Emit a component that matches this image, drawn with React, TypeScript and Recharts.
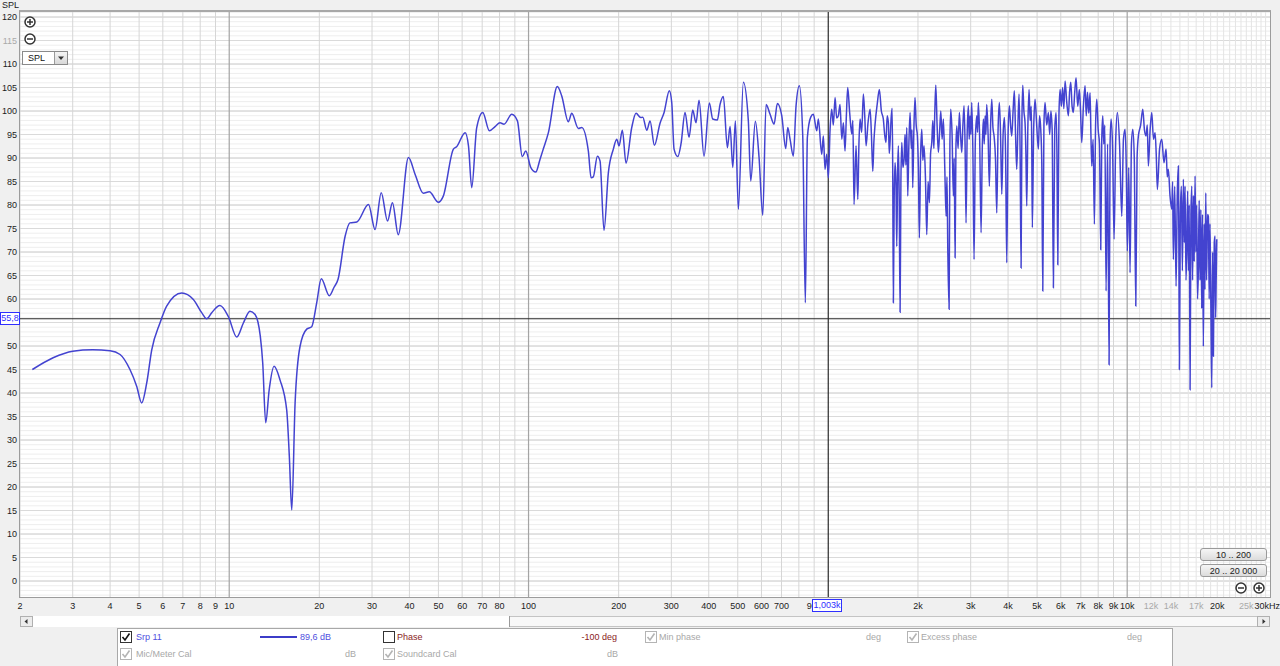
import { LineChart, Line, XAxis, YAxis, ReferenceLine } from "recharts";

// frequency (Hz), SPL (dB)
const subBass: [number, number][] = [
  [2.2, 45.0], [2.58, 47.5], [3.0, 48.9], [3.5, 49.2], [4.0, 49.0], [4.32, 48.2], [4.66, 45.0],
  [4.91, 41.4], [5.1, 37.9], [5.3, 42.1], [5.51, 49.2], [5.87, 54.9], [6.18, 58.5], [6.94, 61.3],
  [7.59, 59.9], [8.09, 57.1], [8.41, 55.8], [8.74, 57.1], [9.31, 58.6], [9.93, 56.3], [10.6, 51.9],
  [11.15, 54.9], [11.73, 57.4], [12.2, 56.7], [12.7, 52.1], [12.94, 46.4], [13.24, 33.7], [13.6, 40.7],
  [14.12, 45.7], [14.78, 42.8], [15.56, 36.4], [15.88, 26.5], [16.18, 15.1], [16.6, 37.9], [17.24, 49.9],
  [18.15, 53.6], [18.86, 54.1], [19.6, 59.2],
];

const bass: [number, number][] = [
  [20.3, 64.3], [21.6, 60.7], [22.4, 62.5], [23.1, 64.2], [24.4, 73.4], [25.3, 76.2], [26.7, 76.4],
  [29.2, 80.1], [30.7, 74.8], [32.2, 82.6], [33.8, 76.6], [35.1, 80.5], [36.7, 73.7], [39.7, 90.1],
  [41.8, 86.5], [44.5, 82.5], [46.6, 82.8], [50.0, 80.6], [51.9, 81.9], [56.1, 91.9], [57.5, 92.4],
  [61.4, 95.4], [63.0, 92.6], [64.6, 83.7], [67.1, 96.4], [70.3, 99.7], [74.0, 95.8], [77.3, 96.7],
  [80.3, 97.5], [82.8, 97.2], [87.9, 99.3], [91.8, 97.9], [95.3, 90.3], [97.9, 91.5], [101.7, 88.0],
  [105.7, 87.0], [109.2, 89.7], [112.0, 91.9], [116.5, 95.4], [124.8, 105.2], [129.1, 103.2],
  [135.8, 97.7], [139.4, 99.5], [146.7, 96.3], [150.6, 96.5], [158.4, 91.5], [161.8, 85.8],
  [164.6, 86.0], [169.8, 90.4], [173.3, 89.4], [178.7, 74.6], [184.8, 86.9], [192.0, 91.9], [197.1, 94.0],
];

const mids: [number, number][] = [
  [200.6, 92.6], [205.8, 95.9], [211.7, 88.9], [221.2, 96.5], [228.6, 99.5], [237.1, 98.6], [240.8, 98.7],
  [248.3, 95.9], [254.7, 97.9], [263.3, 92.7], [275.0, 97.4], [283.7, 99.7], [295.4, 104.3], [300.9, 101.8],
  [306.3, 91.9], [315.2, 90.3], [323.3, 93.1], [333.3, 99.7], [343.8, 94.4], [353.6, 100.2], [362.7, 97.5],
  [371.2, 102.3], [385.7, 90.4], [401.9, 101.7], [412.5, 98.3], [427.4, 98.1], [436.4, 101.4],
  [447.6, 103.1], [461.6, 92.2], [471.3, 96.7], [481.2, 88.0], [490.9, 97.9], [502.3, 79.1], [522, 106.1],
  [542.4, 97.9], [552.5, 85.1], [572.5, 97.8], [589, 90.1], [606, 77.8], [621.6, 101.4], [641, 99.3],
  [661.1, 97.2], [678.1, 101.6], [701.3, 99.0], [723.3, 92.0], [734.5, 96.5], [747.6, 94.0], [766.8, 90.4],
  [782.9, 101.1], [803.1, 105.4], [824.3, 94.7], [841, 59.2], [854.1, 94.4], [876.6, 98.7], [894.3, 99.3],
  [918.1, 95.8], [929.3, 98.3], [953.9, 90.8], [965.8, 94.7], [978.6, 87.6], [991.3, 90.8],
];

const upperMids: [number, number][] = [
  [1004, 85.8], [1017, 96.0], [1030, 100.4], [1043, 97.0], [1057, 102.9], [1070, 98.5], [1084, 99.0],
  [1098, 101.4], [1113, 94.0], [1127, 97.5], [1141, 91.5], [1153, 99.0], [1165, 105.0], [1183, 99.5],
  [1202, 95.1], [1212, 98.0], [1223, 80.1], [1242, 92.6], [1259, 81.2], [1270, 93.0], [1281, 98.3],
  [1297, 95.5], [1314, 103.6], [1328, 99.0], [1342, 92.6], [1362, 97.5], [1384, 100.4], [1398, 95.0],
  [1413, 87.2], [1425, 93.5], [1438, 97.2], [1462, 101.5], [1486, 104.6], [1509, 100.0], [1532, 98.3],
  [1548, 95.0], [1564, 93.3], [1578, 99.0], [1593, 97.5], [1604, 91.0], [1614, 93.6], [1627, 98.5],
  [1639, 100.6], [1647, 88.0],
];

const presence: [number, number][] = [
  [1655, 59.2], [1666, 82.0], [1677, 89.0], [1688, 85.0], [1699, 71.2], [1710, 87.0], [1720, 92.6],
  [1731, 82.0], [1743, 57.2], [1754, 85.0], [1766, 93.3], [1781, 88.0], [1797, 89.7], [1810, 95.0],
  [1822, 88.5], [1835, 96.5], [1849, 81.9], [1865, 93.0], [1882, 99.7], [1900, 92.0], [1910, 96.0],
  [1921, 83.7], [1938, 96.0], [1955, 102.9], [1973, 97.0], [1991, 94.7], [2006, 88.0], [2022, 73.0],
  [2040, 90.0], [2059, 96.1], [2077, 89.5], [2096, 92.6], [2118, 86.0], [2140, 73.7], [2162, 85.0],
  [2184, 80.5], [2204, 91.0], [2224, 93.3], [2242, 98.0], [2260, 92.0], [2277, 100.0], [2294, 105.5],
  [2317, 97.0], [2340, 91.2], [2362, 95.5], [2384, 100.0], [2408, 94.0], [2432, 98.3], [2458, 88.0],
  [2483, 77.6], [2500, 86.0], [2516, 70.5], [2541, 57.8], [2557, 93.0], [2574, 100.4], [2600, 95.0],
  [2626, 81.9], [2643, 90.0], [2661, 68.8], [2678, 92.0], [2696, 96.8], [2723, 92.0], [2750, 99.7],
  [2775, 95.0], [2801, 91.2], [2826, 97.0], [2851, 101.1], [2873, 93.0], [2895, 76.2], [2920, 95.0],
  [2947, 101.1], [2966, 94.0], [2986, 99.0], [3005, 95.0], [3025, 101.8], [3052, 91.0], [3079, 68.4],
  [3110, 94.0], [3144, 99.0], [3163, 95.5], [3183, 101.8], [3215, 94.0], [3250, 74.1], [3280, 92.0],
  [3308, 98.3], [3330, 93.0], [3352, 99.0], [3373, 95.0], [3395, 101.4], [3430, 95.0], [3464, 84.0],
  [3497, 97.0], [3529, 102.5], [3560, 96.5], [3591, 94.7], [3630, 90.0], [3667, 78.3], [3704, 96.0],
  [3741, 101.8], [3775, 95.0], [3811, 82.3], [3850, 95.0], [3888, 98.6], [3924, 91.0], [3960, 67.7],
  [4000, 95.0], [4040, 101.1], [4078, 97.0], [4115, 94.7], [4157, 100.0], [4198, 104.3], [4237, 95.0],
  [4276, 87.6], [4315, 97.0], [4353, 103.6], [4387, 92.0], [4421, 66.6], [4450, 98.0], [4479, 105.5],
  [4518, 100.0], [4558, 97.5], [4588, 91.0], [4618, 79.8], [4659, 97.0], [4700, 104.6], [4740, 98.0],
  [4780, 101.0], [4800, 92.0], [4821, 75.2], [4870, 96.0], [4922, 102.5], [4985, 97.0], [5049, 91.9],
  [5096, 99.0], [5143, 96.1], [5184, 89.0], [5224, 61.7],
];

const brilliance: [number, number][] = [
  [5270, 97.0], [5316, 101.8], [5385, 97.0], [5454, 99.7], [5510, 95.0], [5560, 100.0], [5615, 96.0],
  [5668, 62.4], [5727, 96.0], [5787, 99.7], [5825, 91.0], [5864, 67.3], [5915, 99.0], [5967, 104.6],
  [6025, 101.0], [6085, 105.0], [6143, 100.5], [6202, 106.4], [6280, 102.0], [6361, 99.0], [6420, 104.0],
  [6479, 106.1], [6545, 101.0], [6610, 99.7], [6680, 104.0], [6748, 107.1], [6835, 101.0], [6922, 104.6],
  [6985, 100.0], [7050, 93.3], [7140, 101.0], [7232, 105.4], [7300, 99.0], [7370, 104.0], [7440, 99.5],
  [7516, 103.9], [7566, 95.0], [7616, 88.3], [7693, 94.0], [7770, 75.9], [7842, 97.0], [7914, 102.5],
  [8000, 96.0], [8080, 93.0], [8160, 70.5], [8224, 94.0], [8287, 99.0], [8350, 93.0], [8420, 97.0],
  [8501, 61.7], [8600, 93.0], [8699, 46.0], [8767, 93.0], [8835, 98.3], [8938, 92.0], [9041, 72.7],
  [9157, 94.0], [9273, 99.7], [9430, 93.0], [9592, 77.6], [9716, 94.0], [9840, 96.1], [9930, 88.0],
  [10014, 70.2], [10120, 88.0], [10224, 65.6], [10332, 93.0], [10440, 96.1], [10560, 90.0], [10684, 58.5],
  [10790, 90.0], [10900, 94.7], [11090, 97.0], [11275, 100.4], [11420, 96.0], [11564, 94.7], [11670, 97.0],
  [11771, 88.3], [11930, 96.0], [12083, 99.7], [12240, 94.0], [12393, 95.4], [12500, 91.0], [12615, 83.3],
  [12830, 92.0], [13049, 94.0], [13270, 89.0], [13490, 91.9], [13610, 86.0], [13728, 87.6], [13900, 82.0],
  [14093, 79.1], [14180, 85.0], [14266, 68.4],
];

const air: [number, number][] = [
  [14415, 84.0], [14565, 62.7], [14700, 82.0], [14826, 88.3], [14885, 70.0], [14942, 45.0], [15050, 78.0],
  [15170, 84.0], [15290, 66.0], [15407, 85.5], [15520, 72.0], [15610, 84.0], [15720, 64.0], [15817, 70.5],
  [15920, 83.0], [16020, 66.0], [16120, 80.0], [16223, 40.7], [16330, 78.0], [16440, 84.0], [16540, 64.0],
  [16650, 82.0], [16750, 68.0], [16859, 86.2], [16960, 70.0], [17070, 80.0], [17180, 60.0], [17291, 66.3],
  [17400, 81.0], [17510, 64.0], [17620, 79.0], [17740, 58.0], [17850, 78.0], [17968, 49.9], [18080, 76.0],
  [18190, 62.0], [18306, 82.6], [18420, 64.0], [18550, 78.0], [18673, 77.6], [18790, 60.0], [18910, 76.0],
  [19040, 58.0], [19168, 41.1], [19290, 70.0], [19409, 47.8], [19540, 72.0], [19662, 73.4], [19740, 56.0],
  [19816, 62.7], [19921, 72.7],
];

const xTicks = [
  2, 3, 4, 5, 6, 7, 8, 9, 10, 20, 30, 40, 50, 60, 70, 80, 100, 200, 300, 400, 500, 600, 700, 900,
  2000, 3000, 4000, 5000, 6000, 7000, 8000, 9000, 10000, 12000, 14000, 17000, 20000, 25000, 30000,
];
const grayXTicks = [12000, 14000, 17000, 25000];
const yTicks = [0, 5, 10, 15, 20, 25, 30, 35, 40, 45, 50, 60, 65, 70, 75, 80, 85, 90, 95, 100, 105, 110, 115, 120];

const decadeLines = [10, 100, 10000];
const minorFreqLines = [
  2, 3, 4, 5, 6, 7, 8, 9, 20, 30, 40, 50, 60, 70, 80, 90, 200, 300, 400, 500, 600, 700, 800, 900,
  2000, 3000, 4000, 5000, 6000, 7000, 8000, 9000, 11000, 12000, 13000, 14000, 15000, 16000, 17000,
  18000, 19000, 20000, 21000, 22000, 23000, 24000, 25000, 26000, 27000, 28000, 29000,
];
const dbLines = Array.from({ length: 125 }, (_, i) => i - 3);

const cursorFreq = 1003;
const cursorDb = 55.8;
const readout = "89,6 dB";

const curve = [...subBass, ...bass, ...mids, ...upperMids, ...presence, ...brilliance, ...air].map(([f, spl]) => ({ f, spl }));

const FONT = '"Liberation Sans", Arial, sans-serif';
const BLUE = "#4343d0";

const fmtFreq = (v: number) => (v === 30000 ? "30kHz" : v >= 1000 ? `${v / 1000}k` : String(v));

const XTick = ({ x, y, payload }: any) => {
  const v = payload.value;
  const last = v === 30000;
  return (
    <text
      x={last ? x + 10 : x}
      y={y + 12}
      textAnchor={last ? "end" : "middle"}
      fontSize={9}
      fontFamily={FONT}
      fill={grayXTicks.includes(v) ? "#a9a9a9" : "#1c1c1c"}
    >
      {fmtFreq(v)}
    </text>
  );
};

const YTick = ({ x, y, payload }: any) => (
  <text x={x} y={y} dy="0.35em" textAnchor="end" fontSize={9} fontFamily={FONT} fill={payload.value === 115 ? "#a9a9a9" : "#1c1c1c"}>
    {payload.value}
  </text>
);

const dbStroke = (v: number) => (v % 10 === 0 ? "#c6c6c6" : v % 5 === 0 ? "#dadada" : "#eeeeee");

function ZoomIcon({ left, top, plus }: { left: number; top: number; plus?: boolean }) {
  return (
    <svg width={12} height={12} style={{ position: "absolute", left, top }}>
      <circle cx={6} cy={6} r={5} fill="#fff" stroke="#333" strokeWidth={1.5} />
      <line x1={3} y1={6} x2={9} y2={6} stroke="#333" strokeWidth={1.5} />
      {plus && <line x1={6} y1={3} x2={6} y2={9} stroke="#333" strokeWidth={1.5} />}
    </svg>
  );
}

function Check({ left, top, checked, gray }: { left: number; top: number; checked?: boolean; gray?: boolean }) {
  const c = gray ? "#b4b4b4" : "#333";
  return (
    <svg width={12} height={12} style={{ position: "absolute", left, top }}>
      <rect x={0.5} y={0.5} width={11} height={11} fill="#fff" stroke={c} />
      {checked && <path d="M2.5 6 L5 9 L9.5 2.5" fill="none" stroke={gray ? "#b4b4b4" : "#111"} strokeWidth={1.6} />}
    </svg>
  );
}

function Txt({ left, top, color, children, right }: any) {
  return (
    <span
      style={{
        position: "absolute",
        left: right === undefined ? left : undefined,
        right: right !== undefined ? right : undefined,
        top,
        fontSize: 9,
        fontFamily: FONT,
        color,
        lineHeight: "11px",
        whiteSpace: "nowrap",
      }}
    >
      {children}
    </span>
  );
}

function Btn({ top, label }: { top: number; label: string }) {
  return (
    <div
      style={{
        position: "absolute",
        left: 1200,
        top,
        width: 67,
        height: 13,
        borderRadius: 3,
        border: "1px solid #9a9a9a",
        background: "linear-gradient(#f6f6f6, #dcdcdc)",
        fontSize: 9,
        fontFamily: FONT,
        color: "#222",
        textAlign: "center",
        lineHeight: "13px",
        boxSizing: "border-box",
      }}
    >
      {label}
    </div>
  );
}

export default function App() {
  return (
    <div style={{ position: "absolute", left: 0, top: 0, width: 1280, height: 666, background: "#f0f0f0", overflow: "hidden", fontFamily: FONT }}>
      <Txt left={2} top={0} color="#222">SPL</Txt>
      <div style={{ position: "absolute", left: 20, top: 11, width: 1250, height: 586, background: "#fff" }} />
      <div style={{ position: "absolute", left: 0, top: 0 }}>
        <LineChart width={1280} height={614} data={curve} margin={{ top: 11, right: 10, bottom: 0, left: 0 }}>
          <XAxis
            dataKey="f"
            type="number"
            scale="log"
            domain={[2, 30000]}
            allowDataOverflow
            ticks={xTicks}
            interval={0}
            tick={(p: any) => <XTick {...p} />}
            tickLine={false}
            axisLine={false}
            tickSize={0}
            tickMargin={0}
            height={17}
          />
          <YAxis
            type="number"
            domain={[-3.4, 121.28]}
            allowDataOverflow
            ticks={yTicks}
            interval={0}
            tick={(p: any) => <YTick {...p} />}
            tickLine={false}
            axisLine={false}
            tickSize={0}
            tickMargin={3}
            width={20}
          />
          {dbLines.map((v) => (
            <ReferenceLine key={`h${v}`} y={v} stroke={dbStroke(v)} strokeWidth={1} />
          ))}
          {minorFreqLines.map((v) => (
            <ReferenceLine key={`v${v}`} x={v} stroke={v > 10000 ? "#e4e4e4" : "#d6d6d6"} strokeWidth={1} />
          ))}
          {decadeLines.map((v) => (
            <ReferenceLine key={`d${v}`} x={v} stroke="#a4a4a4" strokeWidth={1.2} />
          ))}
          <ReferenceLine y={cursorDb} stroke="#2a2a2a" strokeWidth={1.2} />
          <ReferenceLine x={cursorFreq} stroke="#2a2a2a" strokeWidth={1.2} />
          <Line
            dataKey="spl"
            type="monotone"
            stroke={BLUE}
            strokeWidth={1.5}
            dot={false}
            isAnimationActive={false}
          />
        </LineChart>
      </div>
      <div style={{ position: "absolute", left: 19, top: 10, width: 1252, height: 588, border: "1px solid #9c9c9c", borderTop: "2px solid #a8a8a8", boxSizing: "border-box" }} />

      <ZoomIcon left={24} top={16} plus />
      <ZoomIcon left={24} top={33} />
      <div style={{ position: "absolute", left: 22, top: 51, width: 46, height: 14, background: "#fff", border: "1px solid #8a8a8a", boxSizing: "border-box" }}>
        <span style={{ position: "absolute", left: 5, top: 1, fontSize: 9, fontFamily: FONT, lineHeight: "11px", color: "#111" }}>SPL</span>
        <div style={{ position: "absolute", right: 0, top: 0, width: 12, height: 12, background: "linear-gradient(#f4f4f4,#d8d8d8)", borderLeft: "1px solid #9a9a9a" }}>
          <svg width={12} height={12} style={{ position: "absolute", left: 0, top: 0 }}>
            <path d="M3 4.5 L9 4.5 L6 8 Z" fill="#333" />
          </svg>
        </div>
      </div>

      <Btn top={548} label="10 .. 200" />
      <Btn top={564} label="20 .. 20 000" />
      <ZoomIcon left={1235} top={582} />
      <ZoomIcon left={1253} top={582} plus />

      <div style={{ position: "absolute", left: 0, top: 312, width: 20, height: 13, background: "#fff", border: "1px solid #2f2fff", boxSizing: "border-box", fontSize: 9, fontFamily: FONT, color: "#2f2fff", lineHeight: "11px", textAlign: "center" }}>
        {String(cursorDb).replace(".", ",")}
      </div>
      <div style={{ position: "absolute", left: 812, top: 599, width: 30, height: 13, background: "#fff", border: "1px solid #2f2fff", boxSizing: "border-box", fontSize: 9, fontFamily: FONT, color: "#2f2fff", lineHeight: "11px", textAlign: "center" }}>
        1,003k
      </div>

      <div style={{ position: "absolute", left: 20, top: 616, width: 1250, height: 11, background: "#f8f8f8", border: "1px solid #c4c4c4", boxSizing: "border-box" }} />
      <div style={{ position: "absolute", left: 33, top: 616, width: 477, height: 11, background: "#fff", borderRight: "1px solid #9a9a9a", boxSizing: "border-box" }} />
      <svg width={13} height={11} style={{ position: "absolute", left: 20, top: 616 }}>
        <rect x={0.5} y={0.5} width={12} height={10} fill="#ececec" stroke="#b0b0b0" />
        <path d="M4.5 5.5 L7.5 3 L7.5 8 Z" fill="#333" />
      </svg>
      <svg width={13} height={11} style={{ position: "absolute", left: 1257, top: 616 }}>
        <rect x={0.5} y={0.5} width={12} height={10} fill="#ececec" stroke="#b0b0b0" />
        <path d="M8.5 5.5 L5.5 3 L5.5 8 Z" fill="#333" />
      </svg>

      <div style={{ position: "absolute", left: 117, top: 628, width: 1056, height: 45, background: "#fff", border: "1px solid #a8a8a8", boxSizing: "border-box" }} />
      <Check left={120} top={631} checked />
      <Txt left={136} top={632} color="#4f4fe0">Srp 11</Txt>
      <div style={{ position: "absolute", left: 260, top: 636, width: 37, height: 2, background: "#3c3cc8" }} />
      <Txt right={1280 - 331} top={632} color="#4f4fe0">{readout}</Txt>
      <Check left={383} top={631} />
      <Txt left={397} top={632} color="#8a1c1c">Phase</Txt>
      <Txt right={1280 - 617} top={632} color="#8a1c1c">-100 deg</Txt>
      <Check left={645} top={631} checked gray />
      <Txt left={659} top={632} color="#a8a8a8">Min phase</Txt>
      <Txt left={866} top={632} color="#a8a8a8">deg</Txt>
      <Check left={907} top={631} checked gray />
      <Txt left={921} top={632} color="#a8a8a8">Excess phase</Txt>
      <Txt left={1127} top={632} color="#a8a8a8">deg</Txt>

      <Check left={120} top={648} checked gray />
      <Txt left={136} top={649} color="#a8a8a8">Mic/Meter Cal</Txt>
      <Txt left={345} top={649} color="#a8a8a8">dB</Txt>
      <Check left={383} top={648} checked gray />
      <Txt left={397} top={649} color="#a8a8a8">Soundcard Cal</Txt>
      <Txt left={607} top={649} color="#a8a8a8">dB</Txt>
    </div>
  );
}
